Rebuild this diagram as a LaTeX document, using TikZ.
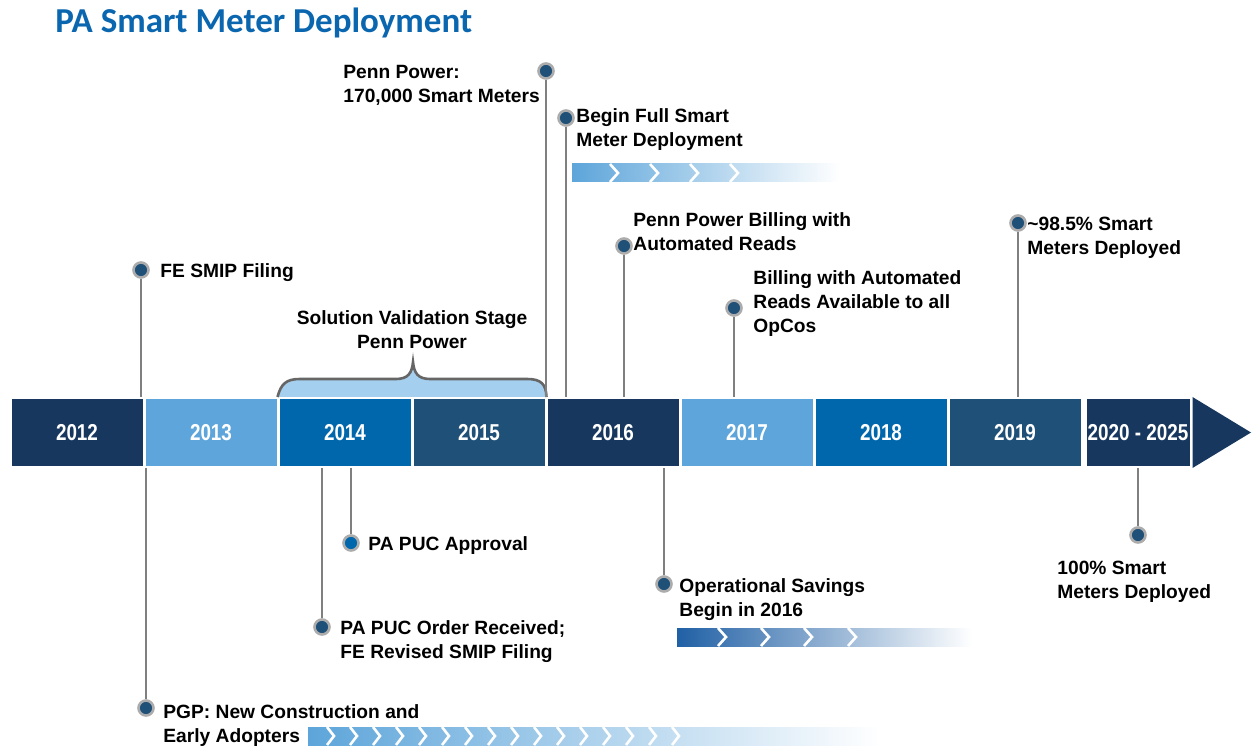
\documentclass[tikz,border=0pt]{standalone}
\usepackage{fontspec}
\setmainfont{Liberation Sans}
\newfontfamily\titlefont{Carlito}
\newfontfamily\yearfont[FakeStretch=0.82]{Liberation Sans}
\usepackage{tikz}
\usetikzlibrary{positioning, calc}

\definecolor{navy}{HTML}{17375E}
\definecolor{skyblue}{HTML}{5DA5DA}
\definecolor{midblue}{HTML}{0067AC}
\definecolor{steel}{HTML}{1F5078}
\definecolor{bracefill}{HTML}{A4CFEF}
\definecolor{pingray}{HTML}{7F7F7F}
\definecolor{titleblue}{HTML}{0A66AE}
\definecolor{savingsblue}{HTML}{2060A5}

\begin{document}
\begin{tikzpicture}[
        x=0.5pt, y=-0.5pt,
        year/.style={rectangle, draw=white, line width=1pt, minimum width=66.5pt, minimum height=34.5pt, inner sep=0pt, text=white, font=\yearfont\bfseries\fontsize{11.5}{12}\selectfont},
        pin/.style={circle, fill=steel, draw=gray!65, line width=1.3pt, minimum size=7.5pt, inner sep=0pt},
        stem/.style={draw=pingray, line width=1.2pt},
        note/.style={font=\bfseries\fontsize{9.6}{12}\selectfont, align=left, inner sep=0pt, anchor=north west},
        chev/.style={draw=white, line width=1.3pt}
    ]
        \useasboundingbox (0,0) rectangle (1252,748);

        % Title
        \node[anchor=west, inner sep=0pt, text=titleblue, font=\titlefont\bfseries\fontsize{17.5}{20}\selectfont] (title) at (55,23) {PA Smart Meter Deployment};

        % Timeline
        \foreach \yr/\col [count=\i from 0] in {2012/navy, 2013/skyblue, 2014/midblue, 2015/steel, 2016/navy, 2017/skyblue, 2018/midblue, 2019/steel}
            \node[year, fill=\col] (y\yr) at (77+134*\i,432.5) {\yr};
        \node[year, fill=navy, minimum width=52.5pt] (ylast) at (1138,432.5) {2020 - 2025};
        \fill[navy] ([xshift=0.5pt]ylast.north east) -- (1251,432.5) -- ([xshift=0.5pt]ylast.south east) -- cycle;

        % Brace over 2014-2015
        \filldraw[fill=bracefill, draw=gray!80!black, line width=1.3pt] (y2014.north west) .. controls (281,384) and (286,379) .. (300,379) -- (396,379) .. controls (408,379) and (412,373) .. (413,362) .. controls (414,373) and (418,379) .. (430,379) -- (527,379) .. controls (541,379) and (546,384) .. (y2015.north east);
        \node[note, anchor=north, align=center] (stage) at (412,310) {Solution Validation Stage\\Penn Power};

        % Milestones above
        \node[pin] (pfe) at (141,270) {};
        \node[note] (fe) at (160,263) {FE SMIP Filing};
        \draw[stem] (pfe.south) -- (pfe |- y2012.north);

        \node[pin] (ppenn) at (546,71) {};
        \node[note] (penn) at (343,65) {Penn Power:\\170,000 Smart Meters};
        \draw[stem] (ppenn.south) -- (ppenn |- y2015.north);

        \node[pin] (pfull) at (566,118) {};
        \node[note] (full) at (576,108) {Begin Full Smart\\Meter Deployment};
        \draw[stem] (pfull.south) -- (pfull |- y2016.north);

        \node[pin] (pbill) at (624,246) {};
        \node[note] (bill) at (633,212) {Penn Power Billing with\\Automated Reads};
        \draw[stem] (pbill.south) -- (pbill |- y2016.north);

        \node[pin] (pauto) at (734,308) {};
        \node[note] (auto) at (753,270) {Billing with Automated\\Reads Available to all\\OpCos};
        \draw[stem] (pauto.south) -- (pauto |- y2017.north);

        \node[pin] (pnine) at (1018,223) {};
        \node[note] (nine) at (1027,217) {\textasciitilde98.5\% Smart\\Meters Deployed};
        \draw[stem] (pnine.south) -- (pnine |- y2019.north);

        % Milestones below
        \node[pin] (ppgp) at (146,708) {};
        \node[note] (pgp) at (163,704) {PGP: New Construction and\\Early Adopters};
        \draw[stem] (ppgp |- y2013.south) -- (ppgp.north);

        \node[pin] (porder) at (322,627) {};
        \node[note] (order) at (340,620) {PA PUC Order Received;\\FE Revised SMIP Filing};
        \draw[stem] (porder |- y2014.south) -- (porder.north);

        \node[pin, fill=midblue] (pappr) at (351,543) {};
        \node[note] (appr) at (368,536) {PA PUC Approval};
        \draw[stem] (pappr |- y2014.south) -- (pappr.north);

        \node[pin] (psave) at (664,584) {};
        \node[note] (save) at (679,578) {Operational Savings\\Begin in 2016};
        \draw[stem] (psave |- y2016.south) -- (psave.north);

        \node[pin] (pall) at (1138,535) {};
        \node[note] (all) at (1057,561) {100\% Smart\\Meters Deployed};
        \draw[stem] (pall |- ylast.south) -- (pall.north);

        % Progress bars
        \shade[left color=skyblue, middle color=skyblue!55, right color=white] (572,164) rectangle (840,182);
        \foreach \x in {610,650,690,730}
            \draw[chev] (\x,164) -- (\x+8,173) -- (\x,182);

        \shade[left color=savingsblue, middle color=savingsblue!50, right color=white] (677,628) rectangle (972,646);
        \foreach \x in {718,761,804,848}
            \draw[chev] (\x,628) -- (\x+8,637) -- (\x,646);

        \shade[left color=skyblue, middle color=skyblue!55, right color=white] (308,727) rectangle (880,745);
        \foreach \i in {0,...,15}
            \draw[chev] (327+23*\i,727) -- (334+23*\i,736) -- (327+23*\i,745);

    \end{tikzpicture}
\end{document}
